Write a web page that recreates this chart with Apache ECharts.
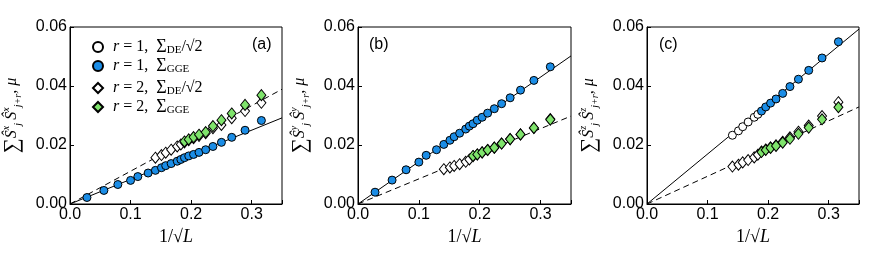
<!DOCTYPE html>
<html><head><meta charset="utf-8">
<script src="https://cdn.jsdelivr.net/npm/echarts@6/dist/echarts.min.js"></script>
<style>html,body{margin:0;padding:0;background:#fff}#c{width:877px;height:263px}</style>
</head><body><div id="c"></div>
<script>
// x = 1/sqrt(L)
const xAll = [0.028,0.056,0.079,0.1,0.112,0.129,0.141,0.151,0.158,0.167,0.177,0.183,0.189,0.196,0.204,0.213,0.224,0.236,0.25,0.267,0.289,0.316];
const xMid = [0.141,0.151,0.158,0.167,0.177,0.183];
const xHigh = [0.189,0.196,0.204,0.213,0.224,0.236,0.25,0.267,0.289,0.316];
const xDiaAll = xMid.concat(xHigh);

// panel (a): x-x correlations
const aR1GGE = [0.0022,0.0046,0.0066,0.0080,0.0093,0.0105,0.0114,0.0123,0.0130,0.0137,0.0145,0.0151,0.0157,0.0163,0.0168,0.0175,0.0184,0.0195,0.0209,0.0226,0.0250,0.0283];
const aR2DE  = [0.0157,0.0166,0.0174,0.0184,0.0195,0.0202,0.0209,0.0216,0.0223,0.0231,0.0240,0.0257,0.0268,0.0291,0.0315,0.0343];
const aR2GGE = [0.0212,0.0219,0.0227,0.0235,0.0244,0.0264,0.0284,0.0307,0.0336,0.0369];
const aLineSolid = [0, 0.0292];
const aLineDash  = [0, 0.0389];

// panel (b): y-y correlations
const bR1GGE = [0.0040,0.0081,0.0116,0.0142,0.0165,0.0184,0.0202,0.0216,0.0228,0.0240,0.0254,0.0264,0.0272,0.0284,0.0294,0.0308,0.0323,0.0340,0.0360,0.0386,0.0419,0.0465];
const bR2DE  = [0.0118,0.0124,0.0129,0.0135,0.0143,0.0151,0.0162,0.0168,0.0175,0.0183,0.0191,0.0205,0.0220,0.0236,0.0258,0.0288];
const bR2GGE = [0.0163,0.0168,0.0175,0.0183,0.0191,0.0205,0.0220,0.0236,0.0258,0.0286];
const bLineSolid = [0, 0.0502];
const bLineDash  = [0, 0.0298];

// panel (c): z-z correlations
const cR1DE  = [0.0233,0.0248,0.0262,0.0278,0.0294,0.0304];
const cR1GGE = [0.0315,0.0329,0.0342,0.0356,0.0375,0.0398,0.0423,0.0453,0.0495,0.0550];
const cR2DE  = [0.0127,0.0133,0.0141,0.0149,0.0158,0.0167,0.0178,0.0185,0.0192,0.0199,0.0211,0.0226,0.0245,0.0266,0.0298,0.0345];
const cR2GGE = [0.0176,0.0183,0.0190,0.0197,0.0208,0.0221,0.0238,0.0259,0.0287,0.0328];
const cLineSolid = [0, 0.0593];
const cLineDash  = [0, 0.0329];

const xLineEnds = [0, 0.35];
const yTicks = ['0.00','0.02','0.04','0.06'];
const xTicks = ['0.0','0.1','0.2','0.3'];

const BLUE = '#1b8de6', GREEN = '#7fe46c';
const pairs = (xs, ys) => xs.map((x, i) => [x, ys[i]]);

const grids = [
  {left: 70, top: 27, width: 212, height: 177},
  {left: 358, top: 27, width: 213, height: 177},
  {left: 647, top: 27, width: 212, height: 177}
];
const comps = ['x','y','z'];

const serifRich = {
  sp: {width: 5},
  it: {fontFamily: 'Liberation Serif', fontStyle: 'italic', fontSize: 16, color: '#000'},
  n: {fontFamily: 'Liberation Serif', fontSize: 16, color: '#000'},
  big: {fontFamily: 'Liberation Serif', fontSize: 18, color: '#000'},
  sub: {fontFamily: 'Liberation Serif', fontSize: 11, color: '#000', verticalAlign: 'bottom', lineHeight: 14}
};

const xAxes = grids.map((g, i) => ({
  gridIndex: i, type: 'value', min: 0, max: 0.35, interval: 0.1,
  axisLine: {show: true, onZero: false, lineStyle: {color: '#000', width: 1}},
  axisTick: {show: true, inside: true, length: 4, lineStyle: {color: '#000'}},
  splitLine: {show: false},
  axisLabel: {
    margin: 3, color: '#000', fontFamily: 'Liberation Sans', fontSize: 16,
    formatter: v => { const k = Math.round(v * 10); return Math.abs(v * 10 - k) < 1e-6 && k < xTicks.length ? xTicks[k] : ''; }
  },
  name: '{n|1/√}{it|L}', nameLocation: 'middle', nameGap: 20,
  nameTextStyle: {rich: {n: {fontFamily: 'Liberation Serif', fontSize: 18, color: '#000'}, it: {fontFamily: 'Liberation Serif', fontStyle: 'italic', fontSize: 18, color: '#000'}}}
}));

const yAxes = grids.map((g, i) => ({
  gridIndex: i, type: 'value', min: 0, max: 0.06, interval: 0.02,
  axisLine: {show: true, onZero: false, lineStyle: {color: '#000', width: 1}},
  axisTick: {show: true, inside: true, length: 4, lineStyle: {color: '#000'}},
  splitLine: {show: false},
  axisLabel: {
    margin: 3, color: '#000', fontFamily: 'Liberation Sans', fontSize: 16,
    formatter: v => yTicks[Math.round(v / 0.02)] || ''
  },
  name: '{sum|∑}{S|Ŝ}{sup|' + comps[i] + '}{sub|j} {S|Ŝ}{sup|' + comps[i] + '}{sub|j+r}{S|, μ}',
  nameLocation: 'middle', nameGap: 47, nameRotate: 90,
  nameTextStyle: {rich: {
    sum: {fontFamily: 'Liberation Serif', fontSize: 21, color: '#000'},
    S: {fontFamily: 'Liberation Serif', fontStyle: 'italic', fontSize: 16, color: '#000', lineHeight: 22},
    sup: {fontFamily: 'Liberation Serif', fontStyle: 'italic', fontSize: 10, color: '#000', verticalAlign: 'top'},
    sub: {fontFamily: 'Liberation Serif', fontStyle: 'italic', fontSize: 10, color: '#000', verticalAlign: 'bottom'}
  }}
}));

function scatter(name, idx, data, symbol, color) {
  return {
    type: 'scatter', name: name, xAxisIndex: idx, yAxisIndex: idx, data: data,
    symbol: symbol, symbolSize: symbol === 'diamond' ? [9, 11] : 8,
    itemStyle: {color: color, borderColor: '#000', borderWidth: 1, opacity: 1},
    z: 5, silent: true
  };
}
function line(idx, ends, dashed) {
  return {
    type: 'line', xAxisIndex: idx, yAxisIndex: idx, data: pairs(xLineEnds, ends),
    symbol: 'none', lineStyle: {color: '#000', width: 1, type: dashed ? [6, 4] : 'solid'},
    z: 2, silent: true
  };
}

const series = [
  line(0, aLineSolid, false), line(0, aLineDash, true),
  scatter('r1DE', 0, [], 'circle', '#fff'),
  scatter('r1GGE', 0, pairs(xAll, aR1GGE), 'circle', BLUE),
  scatter('r2DE', 0, pairs(xDiaAll, aR2DE), 'diamond', '#fff'),
  scatter('r2GGE', 0, pairs(xHigh, aR2GGE), 'diamond', GREEN),

  line(1, bLineSolid, false), line(1, bLineDash, true),
  scatter('b1', 1, pairs(xAll, bR1GGE), 'circle', BLUE),
  scatter('b2', 1, pairs(xDiaAll, bR2DE), 'diamond', '#fff'),
  scatter('b3', 1, pairs(xHigh, bR2GGE), 'diamond', GREEN),

  line(2, cLineSolid, false), line(2, cLineDash, true),
  scatter('c0', 2, pairs(xMid, cR1DE), 'circle', '#fff'),
  scatter('c1', 2, pairs(xHigh, cR1GGE), 'circle', BLUE),
  scatter('c2', 2, pairs(xDiaAll, cR2DE), 'diamond', '#fff'),
  scatter('c3', 2, pairs(xHigh, cR2GGE), 'diamond', GREEN)
];

const legendText = {
  r1DE: '{sp|}{it|r}{n| = 1,  }{big|Σ}{sub|DE}{n|/√2}',
  r1GGE: '{sp|}{it|r}{n| = 1,  }{big|Σ}{sub|GGE}',
  r2DE: '{sp|}{it|r}{n| = 2,  }{big|Σ}{sub|DE}{n|/√2}',
  r2GGE: '{sp|}{it|r}{n| = 2,  }{big|Σ}{sub|GGE}'
};
const legendBase = {
  orient: 'vertical', left: 87, itemWidth: 10, itemHeight: 10, itemGap: 1,
  selectedMode: false,
  formatter: n => legendText[n],
  textStyle: {rich: serifRich, fontSize: 16, color: '#000'}
};

const option = {
  animation: false,
  backgroundColor: '#fff',
  grid: grids.map(g => Object.assign({show: true, borderColor: '#000', borderWidth: 1, backgroundColor: 'transparent'}, g)),
  xAxis: xAxes,
  yAxis: yAxes,
  legend: [
    Object.assign({}, legendBase, {top: 33, data: ['r1DE', 'r1GGE']}),
    Object.assign({}, legendBase, {top: 74, data: ['r2DE', 'r2GGE']})
  ],
  graphic: [
    {type: 'text', left: 252, top: 37, style: {text: '(a)', font: '16px "Liberation Sans"', fill: '#000'}},
    {type: 'text', left: 369, top: 37, style: {text: '(b)', font: '16px "Liberation Sans"', fill: '#000'}},
    {type: 'text', left: 659, top: 37, style: {text: '(c)', font: '16px "Liberation Sans"', fill: '#000'}}
  ],
  series: series
};
const chart = echarts.init(document.getElementById('c'), null, {renderer: 'canvas'});
chart.setOption(option);
</script></body></html>
